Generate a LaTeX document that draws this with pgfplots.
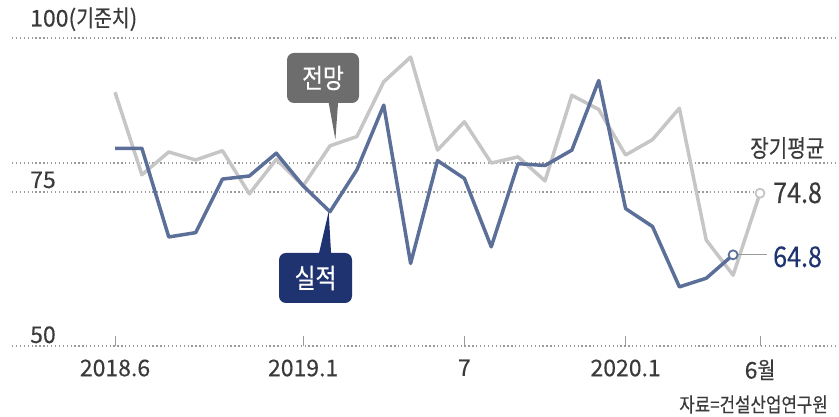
\documentclass[border=0pt]{standalone}
\usepackage{fontspec}
\setmainfont{Noto Sans CJK KR}[FakeStretch=1.0,FakeBold=0.3]
\newfontfamily\kr{Noto Sans CJK KR}[FakeStretch=0.84,FakeBold=0.3]
\newfontfamily\numn{Noto Sans CJK KR}[FakeStretch=0.88,FakeBold=0.3]
\usepackage{pgfplots}
\pgfplotsset{compat=1.18}

\definecolor{fcgray}{HTML}{C6C6C6}
\definecolor{actblue}{HTML}{5B6F99}
\definecolor{navy}{HTML}{1F3370}
\definecolor{boxgray}{HTML}{6D6D6D}
\definecolor{txt}{HTML}{3A3A3A}
\definecolor{gridc}{HTML}{9A9A9A}

% months from 2018.6 (0) to 2020.6 (24)
\pgfplotstableread{
m  v
0  91.2
1  77.8
2  81.5
3  80.2
4  81.7
5  74.7
6  80.3
7  76.0
8  82.5
9  84.0
10 92.9
11 96.9
12 81.8
13 86.4
14 79.7
15 80.7
16 76.8
17 90.7
18 88.4
19 81.0
20 83.5
21 88.6
22 67.2
23 61.5
24 74.8
}\forecast
\pgfplotstableread{
m  v
0  82.1
1  82.1
2  67.7
3  68.4
4  77.1
5  77.6
6  81.3
7  76.0
8  71.8
9  78.6
10 89.1
11 63.4
12 80.1
13 77.2
14 66.1
15 79.6
16 79.3
17 81.8
18 93.1
19 72.3
20 69.4
21 59.6
22 61.0
23 64.8
}\actual

\begin{document}
\begin{tikzpicture}[x=1pt,y=1pt]
\useasboundingbox (0,0) rectangle (839,417);
\begin{axis}[
  at={(12pt,71pt)}, anchor=south west,
  scale only axis, width=827pt, height=308pt,
  xmin=-3.833, xmax=26.94, ymin=50, ymax=100,
  clip=false,
  axis line style={draw=none},
  ytick=\empty,
  xtick={0,7,13,19,24},
  xticklabels={2018.6,2019.1,7,2020.1,{6{\kr 월}}},
  xtick pos=bottom, xtick align=inside,
  major tick length=10pt,
  x tick style={gridc, line width=0.8pt},
  xticklabel style={font=\fontsize{23}{23}\selectfont, text=txt, anchor=north, yshift=-10pt},
]
% dotted reference lines
\draw[gridc, line width=1.3pt, dash pattern=on 1.3pt off 2.6pt] (axis cs:-3.833,100) -- (axis cs:26.94,100);
\draw[gridc, line width=1.3pt, dash pattern=on 1.3pt off 2.6pt] (axis cs:-3.833,79.7) -- (axis cs:26.94,79.7);
\draw[gridc, line width=1.3pt, dash pattern=on 1.3pt off 2.6pt] (axis cs:-3.833,75) -- (axis cs:23.85,75);
\draw[gridc, line width=1.3pt, dash pattern=on 1.3pt off 2.6pt] (axis cs:-3.833,50) -- (axis cs:26.94,50);

\addplot[fcgray, line width=3.5pt, line join=round] table[x=m,y=v] {\forecast};
\addplot[actblue, line width=3.5pt, line join=round] table[x=m,y=v] {\actual};

\draw[gridc, line width=1.2pt] (axis cs:23,64.8) -- (axis cs:24.26,64.8);
\addplot[only marks, mark=*, mark size=4.5pt, mark options={fill=white, draw=fcgray, line width=1.8pt}] coordinates {(24,74.8)};
\addplot[only marks, mark=*, mark size=4.5pt, mark options={fill=white, draw=actblue, line width=1.8pt}] coordinates {(23,64.8)};

% callout pointers
\fill[boxgray] (axis cs:7.95,89.5) -- (axis cs:8.3,89.5) -- (axis cs:8.2,83.5) -- cycle;
\fill[navy] (axis cs:7.55,64.3) -- (axis cs:8.05,64.3) -- (axis cs:7.95,71.8) -- cycle;
\end{axis}

% callout boxes
\node[fill=boxgray, rounded corners=7pt, minimum width=72pt, minimum height=50pt, inner sep=0pt,
      text=white, font=\kr\fontsize{27}{27}\selectfont] at (323,339) {전망};
\node[fill=navy, rounded corners=7pt, minimum width=73pt, minimum height=50pt, inner sep=0pt,
      text=white, font=\kr\fontsize{27}{27}\selectfont] at (315.5,139) {실적};

% axis value labels
\node[anchor=base west, inner sep=0pt, text=txt, font=\fontsize{23}{23}\selectfont] at (30,390.5) {100({\kr 기준치})};
\node[anchor=base west, inner sep=0pt, text=txt, font=\fontsize{23}{23}\selectfont] at (30,229) {75};
\node[anchor=base west, inner sep=0pt, text=txt, font=\fontsize{23}{23}\selectfont] at (30,74) {50};

% right labels
\node[anchor=base west, inner sep=0pt, text=txt, font=\kr\fontsize{24}{24}\selectfont] at (750,260) {장기평균};
\node[anchor=base west, inner sep=0pt, text=txt, font=\numn\fontsize{28.5}{28.5}\selectfont] at (773,214) {74.8};
\node[anchor=base west, inner sep=0pt, text=navy, font=\numn\fontsize{28.5}{28.5}\selectfont] at (773,150) {64.8};

% source
\node[anchor=base east, inner sep=0pt, text=txt, font=\kr\fontsize{20}{20}\selectfont] at (828,5) {자료=건설산업연구원};
\end{tikzpicture}
\end{document}
